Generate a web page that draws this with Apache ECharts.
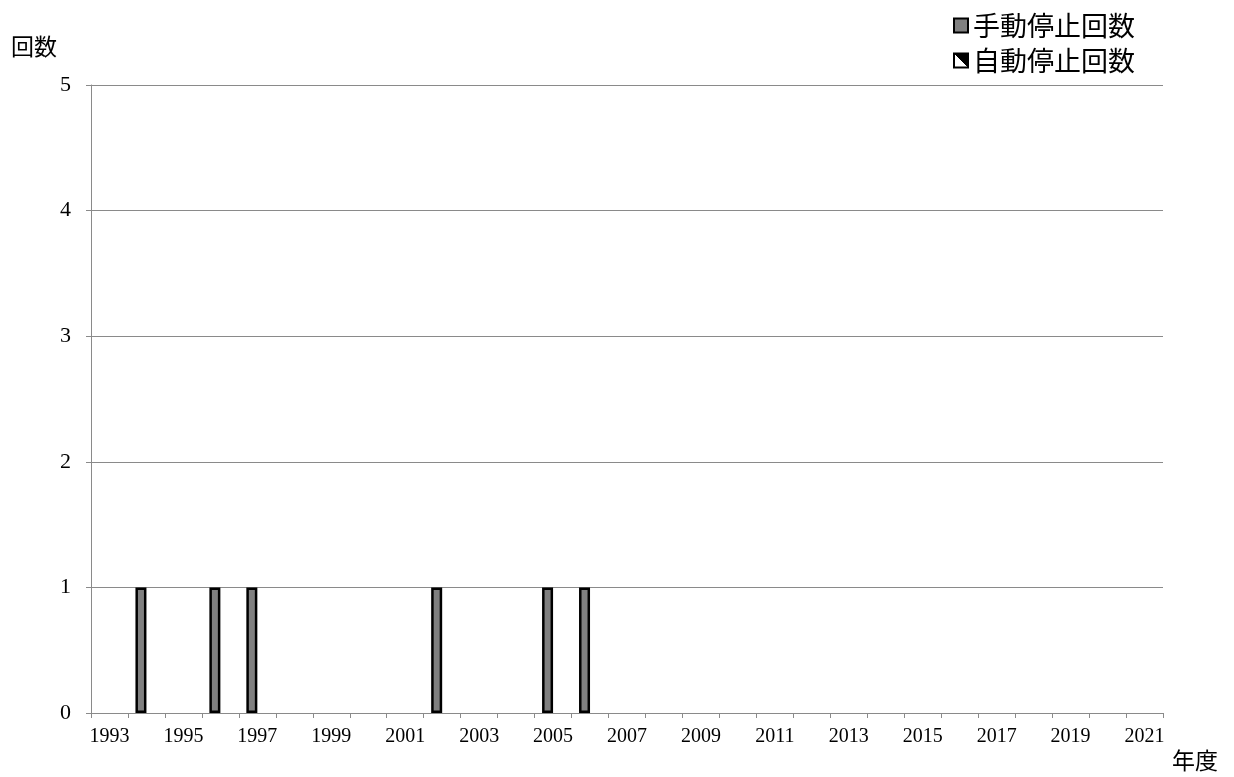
<!DOCTYPE html>
<html>
<head>
<meta charset="utf-8">
<script src="https://cdn.jsdelivr.net/npm/echarts@6/dist/echarts.min.js"></script>
<style>
  html, body { margin: 0; padding: 0; background: #fff; }
  #chart { width: 1234px; height: 777px; }
</style>
</head>
<body>
<div id="chart"></div>
<script>
  // 年度
  const years = [];
  for (let y = 1993; y <= 2021; y++) years.push(String(y));
  // 手動停止回数
  const manualStops = [0, 1, 0, 1, 1, 0, 0, 0, 0, 1, 0, 0, 1, 1, 0, 0, 0, 0, 0, 0, 0, 0, 0, 0, 0, 0, 0, 0, 0];
  // 自動停止回数
  const autoStops = [0, 0, 0, 0, 0, 0, 0, 0, 0, 0, 0, 0, 0, 0, 0, 0, 0, 0, 0, 0, 0, 0, 0, 0, 0, 0, 0, 0, 0];
  const yTicks = [0, 1, 2, 3, 4, 5];

  const serif = '"Liberation Serif", "DejaVu Serif", serif';
  const cjk = '"Noto Sans CJK JP", sans-serif';

  // 0回の棒は描かない
  const noZero = arr => arr.map(v => (v === 0 ? '-' : v));

  let myChart = echarts.init(document.getElementById('chart'));
  let option = {
    animation: false,
    backgroundColor: '#ffffff',
    grid: { left: 91, right: 71, top: 85, bottom: 64 },
    legend: {
      orient: 'vertical',
      left: 948,
      top: 7,
      itemWidth: 14,
      itemHeight: 14,
      itemGap: 8,
      icon: 'rect',
      textStyle: { fontFamily: cjk, fontSize: 27, color: '#000' },
      data: ['手動停止回数', '自動停止回数']
    },
    graphic: [
      { type: 'text', left: 11, top: 35, style: { text: '回数', fontFamily: cjk, fontSize: 23, fill: '#000' } },
      { type: 'text', left: 1172, top: 749, style: { text: '年度', fontFamily: cjk, fontSize: 23, fill: '#000' } }
    ],
    xAxis: {
      type: 'category',
      data: years,
      boundaryGap: true,
      axisLine: { lineStyle: { color: '#8a8a8a', width: 1 } },
      axisTick: { show: true, interval: 0, length: 5, lineStyle: { color: '#8a8a8a' } },
      axisLabel: { interval: 1, margin: 14, fontFamily: serif, fontSize: 20, color: '#000' },
      splitLine: { show: false }
    },
    yAxis: {
      type: 'value',
      min: yTicks[0],
      max: yTicks[yTicks.length - 1],
      interval: 1,
      axisLine: { show: true, lineStyle: { color: '#8a8a8a', width: 1 } },
      axisTick: { show: true, length: 5, lineStyle: { color: '#8a8a8a' } },
      axisLabel: { margin: 20, fontFamily: serif, fontSize: 22, color: '#000' },
      splitLine: { show: true, lineStyle: { color: '#8a8a8a', width: 1 } }
    },
    series: [
      {
        name: '手動停止回数',
        type: 'bar',
        data: noZero(manualStops),
        barWidth: 11,
        barGap: '0%',
        itemStyle: { color: '#808080', borderColor: '#000', borderWidth: 2.5 }
      },
      {
        name: '自動停止回数',
        type: 'bar',
        data: noZero(autoStops),
        barWidth: 11,
        itemStyle: {
          color: new echarts.graphic.LinearGradient(0, 1, 1, 0, [
            { offset: 0, color: '#fff' },
            { offset: 0.5, color: '#fff' },
            { offset: 0.5, color: '#000' },
            { offset: 1, color: '#000' }
          ]),
          borderColor: '#000',
          borderWidth: 2.5
        }
      }
    ]
  };
  myChart.setOption(option);
</script>
</body>
</html>
